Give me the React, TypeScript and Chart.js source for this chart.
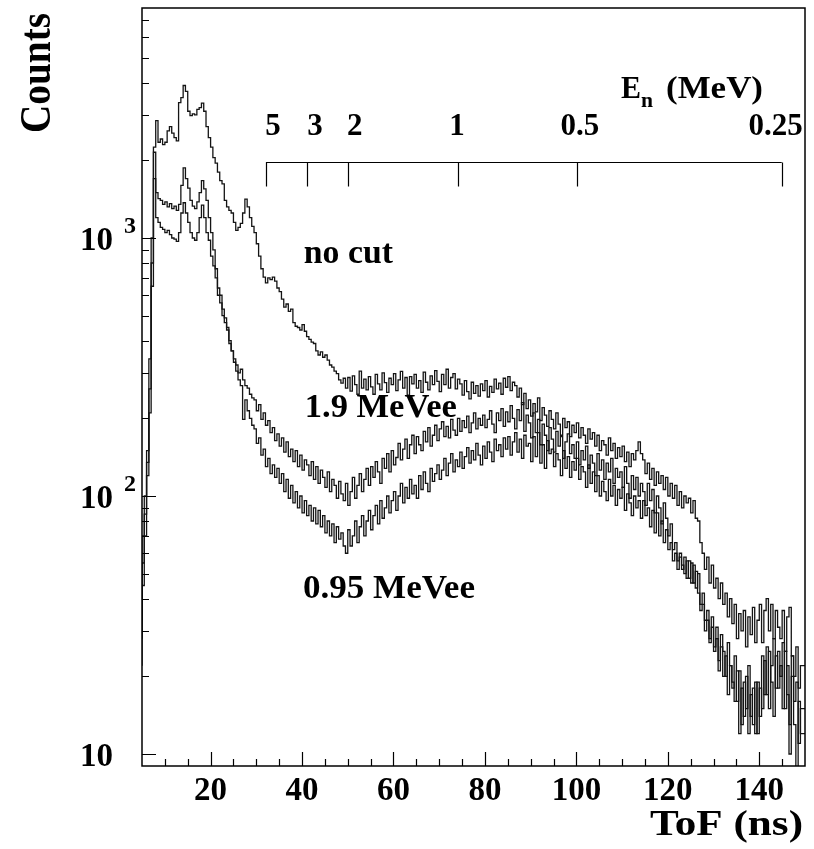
import React, { useEffect, useRef } from "react";
import { Chart, registerables } from "chart.js";

Chart.register(...registerables);

// Histogram binning (ToF in ns)
const binStart = 5;
const binWidth = 0.5;

// Counts per 0.5 ns bin, starting at 5 ns — "no cut"
const noCut = [
  33, 70, 100, 150, 340, 1000, 2250, 2850, 2350, 2420,
  2300, 2350, 2600, 2700, 2550, 2450, 2380, 3350, 3500, 3900,
  3700, 3100, 2980, 3030, 3000, 3150, 3200, 3330, 3100, 2700,
  2450, 2250, 2050, 1950, 1800, 1670, 1620, 1400, 1320, 1280,
  1250, 1150, 1070, 1100, 1140, 1250, 1415, 1320, 1200, 1110,
  1050, 950, 850, 760, 705, 670, 700, 690, 705, 680,
  640, 620, 580, 540, 555, 520, 530, 470, 455, 450,
  440, 462, 435, 415, 405, 395, 390, 365, 352, 362,
  345, 352, 336, 322, 316, 305, 298, 282, 274, 286,
  262, 288, 255, 292, 270, 248, 305, 262, 284, 258,
  290, 265, 248, 296, 272, 258, 300, 275, 252, 286,
  270, 298, 256, 282, 304, 262, 288, 246, 290, 272,
  296, 262, 280, 252, 302, 276, 258, 292, 270, 306,
  278, 254, 296, 270, 310, 262, 288, 298, 260, 284,
  272, 246, 280, 254, 238, 276, 250, 268, 244, 272,
  256, 280, 242, 266, 252, 284, 260, 274, 248, 286,
  264, 290, 256, 276, 268, 242, 262, 226, 250, 218,
  236, 204, 228, 212, 240, 196, 220, 206, 186, 214,
  198, 182, 210, 190, 172, 200, 184, 194, 170, 188,
  176, 192, 168, 184, 172, 160, 182, 166, 176, 156,
  172, 150, 164, 158, 144, 168, 150, 160, 140, 154,
  142, 156, 136, 148, 130, 146, 138, 150, 162, 146,
  138, 122, 134, 116, 128, 110, 124, 112, 120, 106,
  118, 100, 112, 98, 110, 92, 104, 90, 100, 94,
  98, 86, 96, 82, 80, 66, 60, 52, 58, 46,
  54, 44, 48, 40, 46, 38, 42, 34, 40, 32,
  38, 28, 35, 30, 36, 26, 34, 29, 37, 27,
  33, 38, 27, 36, 40, 30, 38, 28, 36, 31,
  28, 36, 25, 34, 37, 24, 20, 26, 18, 22,
];

// Middle curve
const cutMid = [
  28, 55, 85, 135, 260, 800, 2150, 1500, 1420, 1400,
  1350, 1380, 1320, 1360, 1300, 1330, 1280, 1350, 1600, 1870,
  1700, 1560, 1400, 1330, 1300, 1380, 1500, 1670, 1550, 1400,
  1200, 1050, 900, 760, 640, 600, 530, 490, 450, 390,
  365, 340, 322, 300, 310, 282, 268, 262, 248, 240,
  236, 214, 226, 198, 210, 188, 196, 176, 184, 164,
  174, 156, 168, 148, 162, 142, 152, 136, 150, 130,
  144, 126, 138, 132, 120, 136, 116, 130, 112, 126,
  118, 108, 124, 104, 116, 110, 98, 114, 102, 96,
  112, 92, 104, 118, 98, 110, 122, 104, 116, 128,
  110, 130, 118, 136, 124, 112, 140, 128, 146, 124,
  150, 132, 141, 160, 138, 152, 166, 140, 158, 172,
  146, 170, 158, 150, 178, 162, 184, 156, 172, 188,
  164, 182, 194, 170, 186, 168, 198, 180, 172, 200,
  178, 196, 184, 204, 176, 192, 210, 182, 200, 188,
  206, 184, 198, 214, 190, 176, 210, 196, 218, 186,
  212, 194, 224, 200, 182, 216, 196, 230, 178, 206,
  192, 168, 210, 176, 198, 158, 190, 172, 150, 184,
  166, 148, 178, 156, 170, 140, 162, 174, 146, 158,
  140, 162, 132, 150, 138, 156, 128, 144, 134, 120,
  146, 126, 138, 116, 134, 124, 140, 112, 128, 118,
  124, 108, 130, 112, 98, 120, 106, 118, 100, 112,
  104, 92, 112, 96, 106, 86, 100, 90, 78, 94,
  82, 70, 78, 62, 66, 56, 60, 52, 58, 48,
  56, 46, 54, 44, 50, 38, 42, 33, 36, 28,
  34, 26, 31, 23, 29, 25, 20, 27, 22, 18,
  24, 16, 21, 13, 19, 15, 22, 14, 18, 12,
  19, 14, 24, 17, 26, 15, 22, 28, 18, 25,
  20, 27, 15, 22, 13, 24, 16, 19, 11, 15,
];

// Lowest curve
const cutLow = [
  22, 45, 70, 120, 210, 650, 1700, 1200, 1150, 1100,
  1080, 1050, 1070, 1030, 1000, 990, 970, 1050, 1250, 1370,
  1250, 1150, 1050, 1000, 980, 1050, 1200, 1340, 1200, 1050,
  980, 850, 780, 700, 600, 560, 500, 470, 440, 400,
  365, 330, 305, 282, 268, 198, 236, 214, 200, 188,
  182, 160, 168, 144, 152, 130, 140, 122, 132, 118,
  128, 112, 122, 104, 116, 98, 110, 94, 104, 90,
  100, 86, 96, 84, 92, 80, 90, 78, 88, 76,
  84, 72, 80, 70, 78, 66, 76, 68, 72, 64,
  60, 74, 64, 70, 80, 66, 76, 84, 70, 80,
  88, 74, 84, 92, 78, 96, 82, 90, 100, 86,
  96, 104, 88, 100, 112, 94, 108, 98, 116, 102,
  110, 98, 120, 106, 124, 112, 104, 128, 114, 122,
  132, 116, 126, 140, 120, 134, 146, 124, 138, 130,
  148, 128, 142, 154, 134, 150, 138, 160, 144, 132,
  156, 140, 162, 148, 136, 166, 150, 158, 142, 168,
  152, 170, 144, 162, 176, 148, 166, 140, 172, 156,
  160, 136, 170, 142, 176, 134, 158, 128, 164, 146,
  152, 130, 146, 138, 120, 150, 128, 142, 118, 136,
  126, 140, 116, 130, 124, 108, 132, 112, 124, 104,
  120, 100, 114, 104, 96, 116, 100, 110, 92, 106,
  98, 108, 88, 102, 94, 84, 100, 90, 96, 82,
  96, 84, 90, 76, 88, 72, 86, 70, 80, 66,
  74, 62, 66, 56, 60, 52, 58, 54, 50, 56,
  48, 55, 46, 51, 42, 36, 38, 30, 33, 27,
  31, 25, 28, 21, 26, 20, 24, 17, 22, 19,
  16, 21, 12, 18, 14, 20, 12, 17, 13, 19,
  12, 18, 15, 23, 17, 25, 19, 14, 24, 18,
  22, 15, 25, 17, 10, 20, 13, 8, 16, 12,
];

// Axes
const xRange = [5, 150];
const yRange = [8.985, 7789];
const xMajorTicks = [20, 40, 60, 80, 100, 120, 140];
const xMinorStep = 5;
const yDecades = [10, 100, 1000];
const yDecadeLabels = [
  { base: "10", exp: "" },
  { base: "10", exp: "2" },
  { base: "10", exp: "3" },
];

// Secondary neutron-energy axis (E_n in MeV at ToF position in ns)
const energyLabels = ["5", "3", "2", "1", "0.5", "0.25"];
const energyToF = [32.1, 41.1, 50.0, 74.1, 100.1, 144.9];

// Curve annotations (text, ToF in ns, counts at baseline)
const annotationTexts = ["no cut", "1.9 MeVee", "0.95 MeVee"];
const annotationToF = [40.4, 40.6, 40.2];
const annotationCounts = [800, 202, 40.3];

function toPoints(values: number[]) {
  const pts = values.map((v, i) => ({ x: binStart + i * binWidth, y: v }));
  pts.push({ x: binStart + values.length * binWidth, y: values[values.length - 1] });
  return pts;
}

const SERIF = '"Liberation Serif", "Times New Roman", Times, serif';

function drawText(
  ctx: CanvasRenderingContext2D,
  text: string,
  x: number,
  y: number,
  size: number,
  align: CanvasTextAlign,
  targetW?: number
) {
  ctx.save();
  ctx.font = `bold ${size}px ${SERIF}`;
  const w = ctx.measureText(text).width;
  const s = targetW ? targetW / w : 1;
  ctx.translate(x, y);
  ctx.scale(s, 1);
  ctx.textAlign = align;
  ctx.textBaseline = "alphabetic";
  ctx.fillStyle = "#000";
  ctx.fillText(text, 0, 0);
  ctx.restore();
}

const framePlugin = {
  id: "rootFrame",
  afterDatasetsDraw(chart: any) {
    const ctx: CanvasRenderingContext2D = chart.ctx;
    const xs = chart.scales.x;
    const ys = chart.scales.y;
    const a = chart.chartArea;
    ctx.save();
    ctx.strokeStyle = "#000";
    ctx.fillStyle = "#000";

    // frame
    ctx.lineWidth = 1.5;
    ctx.strokeRect(a.left, a.top, a.right - a.left, a.bottom - a.top);

    // x ticks
    ctx.lineWidth = 1.2;
    ctx.beginPath();
    for (let v = xRange[0] + xMinorStep; v < xRange[1]; v += xMinorStep) {
      const px = Math.round(xs.getPixelForValue(v)) + 0.5;
      const len = xMajorTicks.includes(v) ? 14 : 7;
      ctx.moveTo(px, a.bottom);
      ctx.lineTo(px, a.bottom - len);
    }
    // y ticks
    for (const d of yDecades) {
      for (let m = 1; m <= 9; m++) {
        const v = d * m;
        if (v < yRange[0] || v > yRange[1]) continue;
        const py = Math.round(ys.getPixelForValue(v)) + 0.5;
        const len = m === 1 ? 14 : 7;
        ctx.moveTo(a.left, py);
        ctx.lineTo(a.left + len, py);
      }
    }
    ctx.stroke();

    // x tick labels
    for (const v of xMajorTicks) {
      drawText(ctx, String(v), xs.getPixelForValue(v), 800, 33, "center");
    }
    // y tick labels
    yDecades.forEach((d, i) => {
      const py = ys.getPixelForValue(d);
      const lab = yDecadeLabels[i];
      drawText(ctx, lab.base, 113, py + 12, 33, "right");
      if (lab.exp) drawText(ctx, lab.exp, 124, py - 5, 24, "left");
    });

    // axis titles
    drawText(ctx, "ToF (ns)", 803, 835, 35, "right", 153);
    ctx.save();
    ctx.translate(50, 133);
    ctx.rotate(-Math.PI / 2);
    ctx.scale(1, 1.15);
    ctx.font = `bold 38px ${SERIF}`;
    const cw = ctx.measureText("Counts").width;
    ctx.scale(120 / cw, 1);
    ctx.textAlign = "left";
    ctx.textBaseline = "alphabetic";
    ctx.fillText("Counts", 0, 0);
    ctx.restore();

    // energy axis
    const ey = 162.5;
    const x0 = xs.getPixelForValue(energyToF[0]);
    const x1 = xs.getPixelForValue(energyToF[energyToF.length - 1]);
    ctx.lineWidth = 1.2;
    ctx.beginPath();
    ctx.moveTo(x0, ey);
    ctx.lineTo(x1, ey);
    const labelOffsets = [7, 8, 7, -1, 3, -6];
    energyToF.forEach((t) => {
      const px = Math.round(xs.getPixelForValue(t)) + 0.5;
      ctx.moveTo(px, ey);
      ctx.lineTo(px, ey + 24);
    });
    ctx.stroke();
    energyToF.forEach((t, i) => {
      const px = xs.getPixelForValue(t);
      drawText(ctx, energyLabels[i], px + labelOffsets[i], 135, 31, "center");
    });
    drawText(ctx, "E", 621, 98, 31, "left", 20);
    drawText(ctx, "n", 641, 107, 22, "left", 12);
    drawText(ctx, "(MeV)", 666, 98, 32, "left", 97);

    // curve annotations
    const annWidths = [89, 152, 172];
    annotationTexts.forEach((t, i) => {
      drawText(
        ctx,
        t,
        xs.getPixelForValue(annotationToF[i]),
        ys.getPixelForValue(annotationCounts[i]),
        33,
        "left",
        annWidths[i]
      );
    });
    ctx.restore();
  },
};

export default function App() {
  const ref = useRef<HTMLCanvasElement | null>(null);
  useEffect(() => {
    if (!ref.current) return;
    const ds = (vals: number[]) => ({
      data: toPoints(vals),
      stepped: "after" as const,
      borderColor: "#141414",
      borderWidth: 1.3,
      pointRadius: 0,
      fill: false,
      tension: 0,
    });
    const chart = new Chart(ref.current, {
      type: "line",
      data: { datasets: [ds(noCut), ds(cutMid), ds(cutLow)] as any },
      options: {
        animation: false,
        responsive: false,
        maintainAspectRatio: false,
        layout: { padding: { left: 142, right: 9, top: 8, bottom: 83 } },
        plugins: { legend: { display: false }, tooltip: { enabled: false } },
        scales: {
          x: { type: "linear", min: xRange[0], max: xRange[1], display: false },
          y: { type: "logarithmic", min: yRange[0], max: yRange[1], display: false },
        },
      },
      plugins: [framePlugin],
    });
    return () => chart.destroy();
  }, []);
  return (
    <div style={{ position: "absolute", left: 0, top: 0, width: 814, height: 849, background: "#fff" }}>
      <canvas ref={ref} width={814} height={849} style={{ display: "block" }} />
    </div>
  );
}
